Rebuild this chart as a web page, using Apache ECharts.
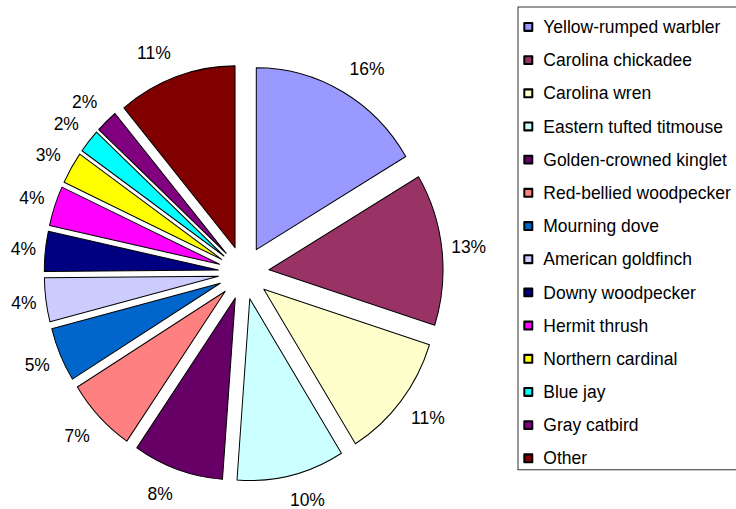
<!DOCTYPE html>
<html>
<head>
<meta charset="utf-8">
<title>Bird species share</title>
<script src="https://cdn.jsdelivr.net/npm/echarts@6/dist/echarts.min.js"></script>
<style>
  html, body { margin: 0; padding: 0; background: #ffffff; overflow: hidden; width: 736px; height: 509px; }
  /* the chart is laid out on a 487px-tall grid and stretched vertically to fill the frame */
  #chart { width: 736px; height: 509px; transform: scaleY(1.0452); transform-origin: 0 0; }
</style>
</head>
<body>
<div id="chart"></div>
<script>
// Species in the order the slices run clockwise from 12 o'clock
const species = [
  'Yellow-rumped warbler',
  'Carolina chickadee',
  'Carolina wren',
  'Eastern tufted titmouse',
  'Golden-crowned kinglet',
  'Red-bellied woodpecker',
  'Mourning dove',
  'American goldfinch',
  'Downy woodpecker',
  'Hermit thrush',
  'Northern cardinal',
  'Blue jay',
  'Gray catbird',
  'Other'
];

// Share of all observations, in percent
const shares = [16.45, 13.49, 11.23, 10.0, 8.4, 6.6, 4.8, 3.9, 3.55, 3.55, 2.85, 2.1, 2.05, 11.03];

const sliceColors = [
  '#9999FF', '#993366', '#FFFFCC', '#CCFFFF', '#660066', '#FF8080', '#0066CC',
  '#CCCCFF', '#000080', '#FF00FF', '#FFFF00', '#00FFFF', '#800080', '#800000'
];

const FONT = '"Liberation Sans", Arial, Helvetica, sans-serif';
const FONT_SIZE = 17.5;
const CX = 243.7, CY = 261, RADIUS = 174, EXPLODE = 25.5;

// Mid angle of every slice (radians, clockwise from 12 o'clock) for label placement
const total = shares.reduce((a, b) => a + b, 0);
const midAngles = [];
let running = 0;
shares.forEach(v => {
  midAngles.push((running + v / 2) / total * 2 * Math.PI);
  running += v;
});

const clamp1 = v => Math.max(-1, Math.min(1, v));

const chart = echarts.init(document.getElementById('chart'), null, { renderer: 'svg' });

chart.setOption({
  animation: false,
  legend: {
    orient: 'vertical',
    left: 518,
    top: 6.7,
    padding: [10.05, 40, 2, 5.3],
    itemWidth: 8,
    itemHeight: 7.5,
    itemGap: 13.75,
    icon: 'rect',
    borderColor: '#333',
    borderWidth: 1,
    selectedMode: false,
    textStyle: {
      fontFamily: FONT,
      fontSize: FONT_SIZE,
      lineHeight: FONT_SIZE,
      color: '#000',
      padding: [0, 0, 0, 6]
    },
    data: species
  },
  series: [
    {
      // exploded slices
      type: 'pie',
      name: 'slices',
      center: [CX, CY],
      radius: RADIUS,
      startAngle: 90,
      clockwise: true,
      selectedMode: 'multiple',
      selectedOffset: EXPLODE,
      emphasis: { disabled: true },
      itemStyle: { borderColor: '#000', borderWidth: 1 },
      label: { show: false },
      labelLine: { show: false },
      data: species.map((name, i) => ({
        name: name,
        value: shares[i],
        selected: true,
        itemStyle: { color: sliceColors[i] }
      }))
    },
    {
      // percentage labels: each box sits just outside the end of its slice
      type: 'pie',
      name: 'labels',
      center: [CX, CY],
      radius: RADIUS,
      startAngle: 90,
      clockwise: true,
      silent: true,
      selectedMode: false,
      avoidLabelOverlap: false,
      emphasis: { disabled: true },
      itemStyle: { color: 'rgba(0,0,0,0)', borderWidth: 0 },
      label: {
        show: true,
        position: 'outside',
        fontFamily: FONT,
        fontSize: FONT_SIZE,
        lineHeight: 14,
        color: '#000',
        formatter: p => Math.round(p.percent) + '%'
      },
      labelLine: { show: false },
      labelLayout: p => {
        const a = midAngles[p.dataIndex];
        const s = Math.sin(a), c = Math.cos(a);
        const halfW = p.labelRect.width / 2;
        const halfH = FONT_SIZE / 2;
        const reach = 208 + 7 * Math.abs(c);
        return {
          x: CX + reach * s + halfW * clamp1(3 * s),
          y: CY - reach * c - halfH * clamp1(1.5 * c),
          align: 'center',
          verticalAlign: 'middle'
        };
      },
      data: species.map((name, i) => ({ name: name, value: shares[i] }))
    }
  ]
});
</script>
</body>
</html>
